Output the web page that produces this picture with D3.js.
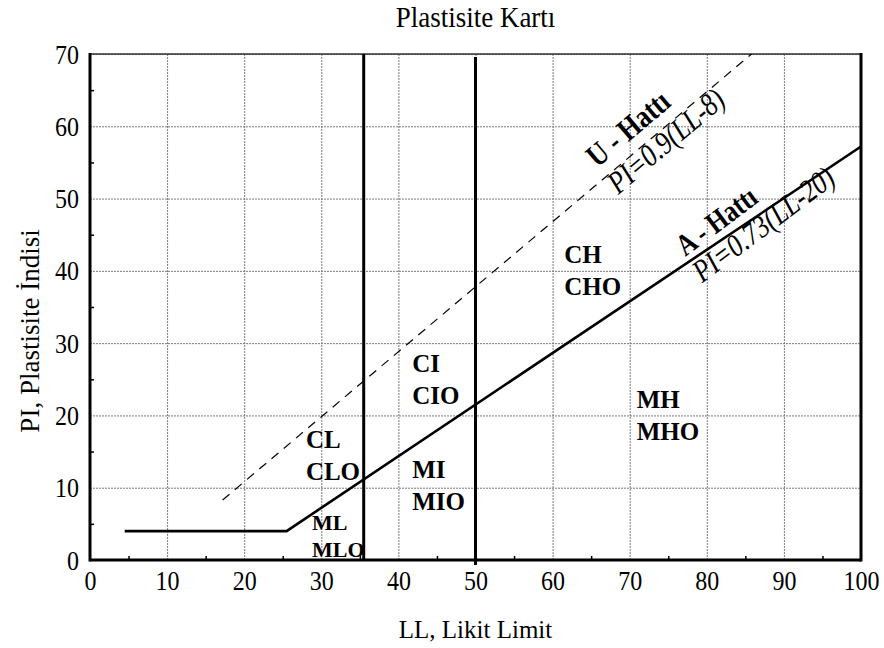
<!DOCTYPE html>
<html>
<head>
<meta charset="utf-8">
<script src="https://cdn.jsdelivr.net/npm/d3@7"></script>
<style>
  body { margin: 0; background: #fff; }
  svg text { font-family: "Liberation Serif", "Times New Roman", serif; fill: #000; }
</style>
</head>
<body>
<svg width="884" height="648"></svg>
<script>
// axis ticks
var llTicks = [0, 10, 20, 30, 40, 50, 60, 70, 80, 90, 100];
var piTicks = [0, 10, 20, 30, 40, 50, 60, 70];
var llMinor = [5, 15, 25, 35, 45, 55, 65, 75, 85, 95];
var piMinor = [5, 15, 25, 35, 45, 55, 65];

// A line (PI = 0.73(LL-20), with PI=4 floor) and U line (PI = 0.9(LL-8))
var aLine = [[4.5, 4], [25.5, 4], [100, 57.2]];
var uLine = [[17.2, 8.3], [85.8, 70]];

// LL boundaries
var llBounds = [35.5, 50];

// zone labels (first row, second row, anchor LL, anchor PI)
var zoneTop = ["CL", "CI", "MI", "CH", "MH", "ML"];
var zoneBottom = ["CLO", "CIO", "MIO", "CHO", "MHO", "MLO"];
var zoneLL = [28.0, 41.8, 41.8, 61.5, 70.9, 28.8];
var zonePI = [15.5, 26.0, 11.3, 41.1, 21.0, 4.15];

var svg = d3.select("svg"),
    margin = {top: 54, right: 23, bottom: 88, left: 90},
    width = +svg.attr("width") - margin.left - margin.right,
    height = +svg.attr("height") - margin.top - margin.bottom,
    g = svg.append("g").attr("transform", "translate(" + margin.left + "," + margin.top + ")");

var x = d3.scaleLinear().domain([0, 100]).range([0, width]);
var y = d3.scaleLinear().domain([0, 70]).range([height, 0]);

// grid
g.append("g")
    .attr("class", "grid")
    .attr("transform", "translate(0," + height + ")")
    .call(d3.axisBottom(x).tickValues(llTicks).tickSize(-height).tickFormat(""));
g.append("g")
    .attr("class", "grid")
    .call(d3.axisLeft(y).tickValues(piTicks).tickSize(-width).tickFormat(""));
g.selectAll(".grid .domain").remove();
g.selectAll(".grid line")
    .attr("stroke", "#7a7a7a")
    .attr("stroke-width", 1)
    .attr("stroke-dasharray", "2,1");

// minor ticks (inside)
g.append("g")
    .attr("class", "minor")
    .attr("transform", "translate(0," + height + ")")
    .call(d3.axisBottom(x).tickValues(llMinor).tickSize(-4).tickFormat(""));
g.append("g")
    .attr("class", "minor")
    .call(d3.axisLeft(y).tickValues(piMinor).tickSize(-4).tickFormat(""));
g.selectAll(".minor .domain").remove();
g.selectAll(".minor line").attr("stroke", "#000").attr("stroke-width", 1.5);

// tick labels (the reference type is slightly taller than normal)
var xAxis = g.append("g")
    .attr("transform", "translate(0," + height + ")")
    .call(d3.axisBottom(x).tickValues(llTicks).tickSize(0));
var yAxis = g.append("g")
    .call(d3.axisLeft(y).tickValues(piTicks).tickSize(0));
xAxis.select(".domain").remove();
yAxis.select(".domain").remove();
xAxis.selectAll("text")
    .attr("font-family", null).attr("y", 0).attr("dy", 0)
    .attr("transform", "translate(0,30) scale(1,1.12)")
    .style("font-size", "24px");
yAxis.selectAll("text")
    .attr("font-family", null).attr("x", 0).attr("dy", 0)
    .attr("transform", "translate(-11,9) scale(1,1.12)")
    .style("font-size", "24px");

// frame
g.append("line").attr("x1", 0).attr("x2", width).attr("y1", 0).attr("y2", 0)
    .attr("stroke", "#333").attr("stroke-width", 1.3);
g.append("line").attr("x1", 0).attr("x2", 0).attr("y1", -1).attr("y2", height + 1.5)
    .attr("stroke", "#000").attr("stroke-width", 3);
g.append("line").attr("x1", width).attr("x2", width).attr("y1", -1).attr("y2", height + 1.5)
    .attr("stroke", "#000").attr("stroke-width", 3);
g.append("line").attr("x1", 0).attr("x2", width).attr("y1", height).attr("y2", height)
    .attr("stroke", "#000").attr("stroke-width", 3);

// LL boundaries
g.selectAll(".bound")
    .data(llBounds)
  .enter().append("line")
    .attr("class", "bound")
    .attr("x1", function(d) { return x(d); })
    .attr("x2", function(d) { return x(d); })
    .attr("y1", function(d, i) { return y(i ? 69.6 : 70); })
    .attr("y2", function(d, i) { return y(i ? -0.7 : 0); })
    .attr("stroke", "#000")
    .attr("stroke-width", 3);

var line = d3.line()
    .x(function(d) { return x(d[0]); })
    .y(function(d) { return y(d[1]); });

g.append("path")
    .datum(uLine)
    .attr("d", line)
    .attr("fill", "none")
    .attr("stroke", "#000")
    .attr("stroke-width", 1.2)
    .attr("stroke-dasharray", "9,7");

g.append("path")
    .datum(aLine)
    .attr("d", line)
    .attr("fill", "none")
    .attr("stroke", "#000")
    .attr("stroke-width", 2.6);

// line labels, rotated along the line
function angleOf(pts) {
  var a = pts[pts.length - 2], b = pts[pts.length - 1];
  return Math.atan2(y(b[1]) - y(a[1]), x(b[0]) - x(a[0])) * 180 / Math.PI;
}
var uAng = angleOf(uLine), aAng = angleOf(aLine) - 3;

function lineLabel(txt, ll, pi, ang, weight, style, size) {
  g.append("text")
    .attr("transform", "translate(" + x(ll) + "," + y(pi) + ") rotate(" + ang + ") scale(1,1.22)")
    .style("font-size", size + "px")
    .style("font-weight", weight)
    .style("font-style", style)
    .text(txt);
}
lineLabel("U - Hattı", 65.8, 54.2, uAng, "bold", "normal", 26);
lineLabel("PI=0.9(LL-8)", 68.5, 50.5, uAng, "normal", "italic", 26);
lineLabel("A - Hattı", 77.2, 41.9, aAng, "bold", "normal", 25);
lineLabel("PI=0.73(LL-20)", 79.4, 38.3, aAng, "normal", "italic", 26);

// zone labels
var zones = g.selectAll(".zone")
    .data(zoneTop)
  .enter().append("text")
    .attr("class", "zone")
    .attr("x", function(d, i) { return x(zoneLL[i]); })
    .attr("y", function(d, i) { return y(zonePI[i]); })
    .style("font-weight", "bold")
    .style("font-size", function(d) { return d === "ML" ? "22px" : "25px"; });
zones.append("tspan").text(function(d) { return d; });
zones.append("tspan")
    .attr("x", function(d, i) { return x(zoneLL[i]); })
    .attr("dy", function(d) { return d === "ML" ? 27 : 32; })
    .text(function(d, i) { return zoneBottom[i]; });

// titles
svg.append("text")
    .attr("transform", "translate(" + (margin.left + width / 2) + ",27) scale(1,1.08)")
    .attr("text-anchor", "middle")
    .style("font-size", "27px")
    .text("Plastisite Kartı");

svg.append("text")
    .attr("x", margin.left + width / 2)
    .attr("y", 638)
    .attr("text-anchor", "middle")
    .style("font-size", "25px")
    .text("LL, Likit Limit");

svg.append("text")
    .attr("transform", "translate(39,331) rotate(-90)")
    .attr("text-anchor", "middle")
    .style("font-size", "27px")
    .text("PI, Plastisite İndisi");
</script>
</body>
</html>
